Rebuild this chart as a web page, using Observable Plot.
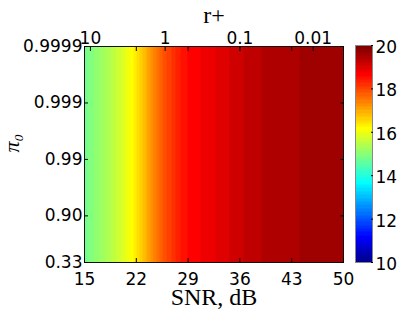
<!DOCTYPE html>
<html><head><meta charset="utf-8">
<script src="https://cdn.jsdelivr.net/npm/d3@7"></script>
<script src="https://cdn.jsdelivr.net/npm/@observablehq/plot@0.6"></script>
<style>
body{margin:0;background:#fff;}
#wrap{position:relative;width:399px;height:311px;overflow:hidden;}
#wrap svg{position:absolute;left:0;top:0;}
</style></head><body><div id="wrap"></div>
<script>
// SNR grid (dB) and the colour value read at each SNR (same for every pi0 row)
const snr = [15,16,17,18,19,20,21,22,23,24,25,26,27,28,29,30,31,32,33,34,35,36,37,38,39,40,41,42,43,44,45,46,47,48,49,50];
const score = [14.75,14.95,15.15,15.35,15.55,15.78,16.05,16.4,16.8,17.2,17.6,17.95,18.2,18.45,18.6,18.7,18.78,18.86,18.93,19.02,19.1,19.18,19.26,19.33,19.38,19.42,19.45,19.48,19.51,19.53,19.55,19.57,19.58,19.6,19.61,19.62];
const pi0 = [0.33, 0.90, 0.99, 0.999, 0.9999];
const pi0Labels = ["0.33","0.90","0.99","0.999","0.9999"];
const snrTicks = [15,22,29,36,43,50];
const rPlusLabels = ["10","1","0.1","0.01"];
const rPlusSNR = [15.8, 25.9, 36.0, 45.9];
const cbTicks = [10,12,14,16,18,20];
const cbDomain = [10,20];

// MATLAB jet(64), quantized
function u(j){return j<=16 ? j/16 : (j<=31 ? 1 : (48-j)/16);}
function jet64(k){
  const r = k>=25 ? u(k-24) : 0;
  const g = (k>=9 && k<=55) ? u(k-8) : 0;
  const b = k<=39 ? u(k+8) : 0;
  return `rgb(${Math.round(r*255)},${Math.round(g*255)},${Math.round(b*255)})`;
}
const jetQ = t => jet64(Math.max(1, Math.min(64, Math.floor(t*64)+1)));

const yv = pi0.map(p => -Math.log10(1-p));
const grid = pi0.flatMap((p,j) => snr.map((s,i) => ({snr:s, y:yv[j], v:score[i]})));
const color = {type:"linear", domain:cbDomain, interpolate: jetQ};
const tickFont = "DejaVu Sans";
const serif = "Liberation Serif";
const blank = () => "";
const fs = 17;

const main = Plot.plot({
  width:399, height:311, marginLeft:84, marginRight:56, marginTop:46, marginBottom:49,
  style:{fontFamily:tickFont, fontSize:fs+"px", color:"#000", background:"transparent", overflow:"visible"},
  x:{domain:[15,50]},
  y:{domain:[yv[0], yv[yv.length-1]]},
  color,
  marks:[
    Plot.raster(grid, {x:"snr", y:"y", fill:"v", interpolate:"barycentric", x1:15, x2:50, y1:yv[0], y2:yv[yv.length-1], pixelSize:1}),
    Plot.frame({stroke:"#111"}),
    // inward tick marks (no labels)
    Plot.axisX({anchor:"bottom", ticks:snrTicks, tickSize:-4, tickFormat:blank, label:null}),
    Plot.axisX({anchor:"top", ticks:snrTicks, tickSize:-4, tickFormat:blank, label:null}),
    Plot.axisX({anchor:"top", ticks:rPlusSNR, tickSize:-4, tickFormat:blank, label:null}),
    Plot.axisY({anchor:"left", ticks:yv, tickSize:-4, tickFormat:blank, label:null}),
    Plot.axisY({anchor:"right", ticks:yv, tickSize:-4, tickFormat:blank, label:null}),
    // labels
    Plot.axisX({anchor:"bottom", ticks:snrTicks, tickSize:0, tickPadding:10, label:null, fontSize:fs}),
    Plot.axisX({anchor:"top", ticks:rPlusSNR, tickSize:0, tickPadding:3, tickFormat:d=>rPlusLabels[rPlusSNR.indexOf(d)], label:null, fontSize:fs}),
    Plot.axisY({anchor:"left", ticks:yv, tickSize:0, tickPadding:2, tickFormat:d=>pi0Labels[yv.indexOf(d)], label:null, fontSize:fs}),
    Plot.text(["r+"], {text:d=>d, frameAnchor:"top", dy:-24, lineAnchor:"bottom", fontFamily:serif, fontSize:24}),
    Plot.text(["SNR, dB"], {text:d=>d, frameAnchor:"bottom", dy:42, lineAnchor:"bottom", fontFamily:serif, fontSize:24}),
    Plot.text(["π₀"], {text:d=>d, frameAnchor:"left", dx:-73, dy:-2, rotate:-90, fontFamily:serif, fontStyle:"italic", fontSize:22})
  ]
});

const cb = Plot.plot({
  width:399, height:311, marginLeft:355, marginRight:27, marginTop:45, marginBottom:49,
  style:{fontFamily:tickFont, fontSize:fs+"px", color:"#000", background:"transparent", overflow:"visible"},
  x:{domain:[0,1], axis:null},
  y:{domain:cbDomain},
  color,
  marks:[
    Plot.raster({fill:(x,y)=>y, x1:0, x2:1, y1:cbDomain[0], y2:cbDomain[1], pixelSize:1}),
    Plot.frame({stroke:"#888"}),
    Plot.axisY({anchor:"right", ticks:cbTicks, tickSize:-2, tickFormat:blank, label:null}),
    Plot.axisY({anchor:"right", ticks:cbTicks, tickSize:0, tickPadding:3, label:null, fontSize:fs, dy:2})
  ]
});

const wrap = document.getElementById("wrap");
wrap.appendChild(main);
wrap.appendChild(cb);
</script>
</body></html>
